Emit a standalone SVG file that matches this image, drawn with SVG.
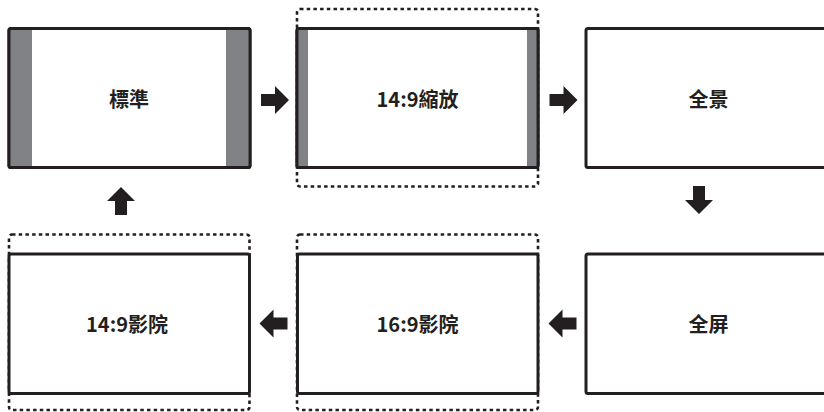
<svg xmlns="http://www.w3.org/2000/svg" width="824" height="412" viewBox="0 0 824 412">
<style>
.frame{fill:#fff;stroke:#231f20;stroke-width:3}
.bar{fill:#808285}
.dash{fill:none;stroke:#231f20;stroke-width:2.6;stroke-dasharray:3.5 3.2}
.lbl{font-family:"Noto Sans CJK SC","Noto Sans",sans-serif;font-weight:bold;font-size:20px;fill:#231f20;text-anchor:middle;dominant-baseline:central}
.arr{fill:#231f20}
</style>
<defs>
<path id="arrR" d="M-14,-6 H0 V-14 L14,0 L0,14 V6 H-14 Z"/>
</defs>
<rect width="824" height="412" fill="#fff"/>
<g id="node-standard">
<rect class="frame" x="9" y="28.5" width="241" height="139" rx="2"/>
<rect class="bar" x="10.5" y="30" width="21.5" height="136"/>
<rect class="bar" x="226" y="30" width="22.5" height="136"/>
<rect x="9" y="28.5" width="241" height="139" rx="2" fill="none" stroke="#231f20" stroke-width="3"/>
<text class="lbl" x="129" y="98.5">標準</text>
</g>
<g id="node-149zoom">
<rect class="dash" x="297" y="9" width="241" height="177.5" rx="3"/>
<rect class="frame" x="297" y="28.5" width="241" height="139" rx="2"/>
<rect class="bar" x="298.5" y="30" width="9.5" height="136"/>
<rect class="bar" x="527" y="30" width="9.5" height="136"/>
<rect x="297" y="28.5" width="241" height="139" rx="2" fill="none" stroke="#231f20" stroke-width="3"/>
<text class="lbl" x="417.5" y="98.5">14:9縮放</text>
</g>
<g id="node-panorama">
<rect class="frame" x="586" y="28.5" width="241" height="139" rx="2"/>
<text class="lbl" x="708.5" y="98.5">全景</text>
</g>
<g id="node-fullscreen">
<rect class="frame" x="586" y="254" width="241" height="139.5" rx="2"/>
<text class="lbl" x="708.5" y="323.5">全屏</text>
</g>
<g id="node-169cinema">
<rect class="dash" x="297" y="234.5" width="241" height="175.5" rx="3"/>
<rect class="frame" x="297.5" y="254" width="240.5" height="139.5" rx="2"/>
<text class="lbl" x="417.5" y="323.5">16:9影院</text>
</g>
<g id="node-149cinema">
<rect class="dash" x="9" y="234.5" width="240.5" height="175.5" rx="3"/>
<rect class="frame" x="9" y="254" width="240.5" height="139.5" rx="2"/>
<text class="lbl" x="127" y="323.5">14:9影院</text>
</g>
<g id="connectors" class="arr">
<use href="#arrR" transform="translate(275,100)"/>
<use href="#arrR" transform="translate(563.5,100)"/>
<use href="#arrR" transform="translate(699,200) rotate(90)"/>
<use href="#arrR" transform="translate(562.5,323.5) rotate(180)"/>
<use href="#arrR" transform="translate(273.5,323.5) rotate(180)"/>
<use href="#arrR" transform="translate(121,201) rotate(-90)"/>
</g>
</svg>
